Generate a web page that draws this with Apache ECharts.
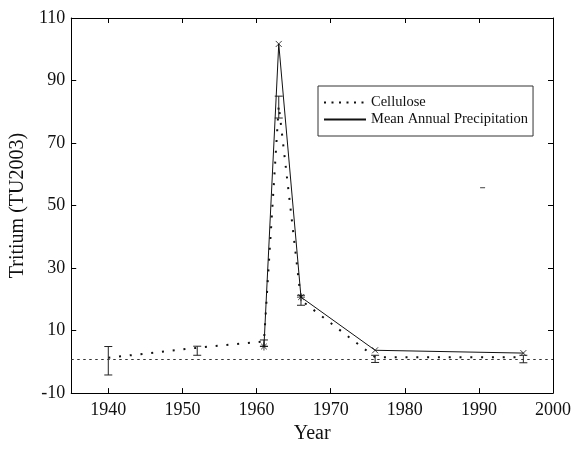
<!DOCTYPE html>
<html>
<head>
<meta charset="utf-8">
<script src="https://cdn.jsdelivr.net/npm/echarts@6/dist/echarts.min.js"></script>
<style>
  html, body { margin: 0; padding: 0; background: #fff; }
  #chart { width: 583px; height: 449px; }
</style>
</head>
<body>
<div id="chart"></div>
<script>
// sample years and tritium values
var years = [1940, 1952, 1961, 1963, 1966, 1976, 1996];
var cellulose = [1.3, 4.5, 6.5, 82, 19.7, 1.5, 1.5];
var celluloseLow = [-4.2, 2.1, 5.0, 78, 18.1, -0.2, -0.3];
var celluloseHigh = [4.9, 5.0, 7.0, 85, 21.3, 2.1, 2.1];

var precipYears = [1961, 1963, 1966, 1976, 1996];
var precipitation = [4.9, 101.7, 20.7, 3.7, 2.8];
var precipMarker = ['star', 'x', 'star', 'x', 'x'];

var baseline = 0.7;
var strayPoint = [[1990.5, 55.7]];

var xTicks = [1940, 1950, 1960, 1970, 1980, 1990, 2000];

var FONT = '"Liberation Serif", "Times New Roman", serif';
var X_PATH = 'path://M0,0L10,10M10,0L0,10';
var STAR_PATH = 'path://M0,5L10,5M5,0L5,10M1.5,1.5L8.5,8.5M8.5,1.5L1.5,8.5';

var celluloseData = years.map(function (y, i) { return [y, cellulose[i]]; });
var errorData = years.map(function (y, i) { return [y, celluloseLow[i], celluloseHigh[i]]; });
var precipData = precipYears.map(function (y, i) { return [y, precipitation[i]]; });
var markerData = precipYears.map(function (y, i) {
  return {
    value: [y, precipitation[i]],
    symbol: precipMarker[i] === 'star' ? STAR_PATH : X_PATH,
    symbolSize: precipMarker[i] === 'star' ? 8 : 6
  };
});

var chart = echarts.init(document.getElementById('chart'));

var tickStyle = { show: true, inside: true, length: 5, lineStyle: { color: '#000', width: 1 } };
var lineAxis = { show: true, onZero: false, lineStyle: { color: '#000', width: 1 } };

var option = {
  animation: false,
  backgroundColor: '#fff',
  grid: { left: 71, right: 30, top: 18, bottom: 51 },
  legend: {
    orient: 'vertical',
    left: 318,
    top: 86,
    padding: [9, 5, 9, 5],
    itemGap: 2,
    itemWidth: 42,
    itemHeight: 14,
    borderColor: '#333',
    borderWidth: 1,
    backgroundColor: '#fff',
    itemStyle: { opacity: 0 },
    textStyle: { fontFamily: FONT, fontSize: 14.5, color: '#111' },
    data: [
      { name: 'Cellulose', itemStyle: { opacity: 0 }, lineStyle: { type: [2, 5.5], width: 2 } },
      { name: 'Mean Annual Precipitation', itemStyle: { opacity: 0 }, lineStyle: { width: 2 } }
    ]
  },
  xAxis: [
    {
      type: 'value', position: 'bottom', min: 1935, max: 2000,
      name: 'Year', nameLocation: 'middle', nameGap: 30,
      nameTextStyle: { fontFamily: FONT, fontSize: 20, color: '#111' },
      axisLine: lineAxis,
      axisTick: Object.assign({ customValues: xTicks }, tickStyle),
      axisLabel: {
        customValues: xTicks, margin: 8, fontFamily: FONT, fontSize: 18, color: '#111',
        formatter: function (v) { return String(v); }
      },
      splitLine: { show: false }
    },
    {
      type: 'value', position: 'top', min: 1935, max: 2000,
      axisLine: lineAxis,
      axisTick: Object.assign({ customValues: xTicks }, tickStyle),
      axisLabel: { show: false },
      splitLine: { show: false }
    }
  ],
  yAxis: [
    {
      type: 'value', position: 'left', min: -10, max: 110, interval: 20,
      name: 'Tritium (TU2003)', nameLocation: 'middle', nameGap: 37,
      nameTextStyle: { fontFamily: FONT, fontSize: 20, color: '#111' },
      axisLine: lineAxis,
      axisTick: tickStyle,
      axisLabel: { margin: 6, fontFamily: FONT, fontSize: 18, color: '#111' },
      splitLine: { show: false }
    },
    {
      type: 'value', position: 'right', min: -10, max: 110, interval: 20,
      axisLine: lineAxis,
      axisTick: tickStyle,
      axisLabel: { show: false },
      splitLine: { show: false }
    }
  ],
  series: [
    {
      name: 'Cellulose',
      type: 'line',
      data: celluloseData,
      symbol: 'none',
      lineStyle: { color: '#111', width: 2, type: [2, 8.8] },
      itemStyle: { color: '#111' },
      markLine: {
        silent: true,
        symbol: 'none',
        label: { show: false },
        lineStyle: { color: '#333', width: 1, type: [2.5, 3.5] },
        data: [{ yAxis: baseline }]
      },
      z: 3
    },
    {
      name: 'Cellulose error',
      type: 'custom',
      data: errorData,
      renderItem: function (params, api) {
        var x = api.value(0);
        var top = api.coord([x, api.value(2)]);
        var bot = api.coord([x, api.value(1)]);
        var half = 4;
        var st = { stroke: '#222', lineWidth: 1 };
        return {
          type: 'group',
          children: [
            { type: 'line', shape: { x1: top[0], y1: top[1], x2: bot[0], y2: bot[1] }, style: st },
            { type: 'line', shape: { x1: top[0] - half, y1: top[1], x2: top[0] + half, y2: top[1] }, style: st },
            { type: 'line', shape: { x1: bot[0] - half, y1: bot[1], x2: bot[0] + half, y2: bot[1] }, style: st }
          ]
        };
      },
      z: 4
    },
    {
      name: 'Mean Annual Precipitation',
      type: 'line',
      data: precipData,
      symbol: 'none',
      lineStyle: { color: '#111', width: 1 },
      itemStyle: { color: '#111' },
      z: 5
    },
    {
      name: 'Precipitation markers',
      type: 'scatter',
      data: markerData,
      itemStyle: { color: 'none', borderColor: '#111', borderWidth: 1 },
      z: 6
    },
    {
      name: 'Stray',
      type: 'scatter',
      data: strayPoint,
      symbol: 'rect',
      symbolSize: [5, 1],
      itemStyle: { color: '#111' },
      z: 6
    }
  ]
};

chart.setOption(option);
</script>
</body>
</html>
